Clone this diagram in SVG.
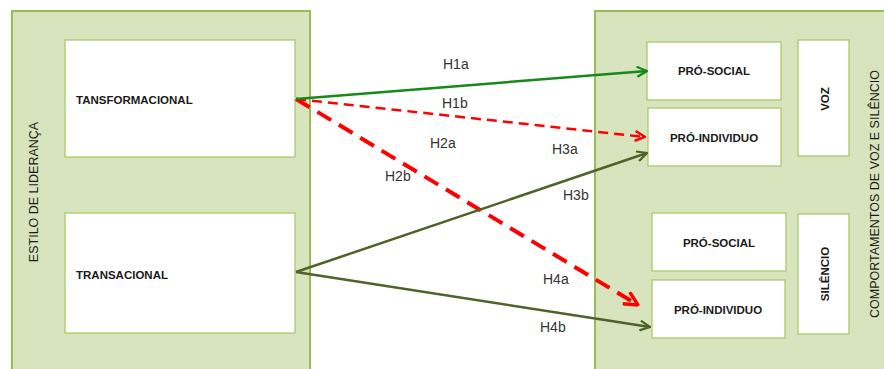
<svg xmlns="http://www.w3.org/2000/svg" width="884" height="369" viewBox="0 0 884 369">
  <style>
    .panel { fill: #d7e4bd; stroke: #9bbb59; stroke-width: 2; }
    .box { fill: #ffffff; stroke: #a9c96a; stroke-width: 1.3; }
    .bold { font-family: "Liberation Sans", Arial, sans-serif; font-weight: bold; font-size: 11.5px; fill: #1a1a1a; }
    .side { font-family: "Liberation Sans", Arial, sans-serif; font-size: 12.5px; fill: #1a1a1a; }
    .lbl { font-family: "Liberation Sans", Arial, sans-serif; font-size: 14px; fill: #333333; }
    .green { stroke: #15891a; stroke-width: 2.5; fill: none; }
    .olive { stroke: #4f6228; stroke-width: 2.5; fill: none; }
    .red1 { stroke: #ff0000; stroke-width: 2.5; fill: none; stroke-dasharray: 10 6; }
    .red2 { stroke: #ff0000; stroke-width: 4; fill: none; stroke-dasharray: 16 9; }
  </style>
  <defs>
    <marker id="ahGreen" viewBox="0 0 12 12" refX="11" refY="6" markerWidth="12" markerHeight="12" markerUnits="userSpaceOnUse" orient="auto">
      <path d="M1,1 L11,6 L1,11" fill="none" stroke="#15891a" stroke-width="2.2"/>
    </marker>
    <marker id="ahOlive" viewBox="0 0 12 12" refX="11" refY="6" markerWidth="12" markerHeight="12" markerUnits="userSpaceOnUse" orient="auto">
      <path d="M1,1 L11,6 L1,11" fill="none" stroke="#4f6228" stroke-width="2.2"/>
    </marker>
    <marker id="ahRed" viewBox="0 0 12 12" refX="11" refY="6" markerWidth="12" markerHeight="12" markerUnits="userSpaceOnUse" orient="auto">
      <path d="M1,1 L11,6 L1,11" fill="none" stroke="#ff0000" stroke-width="2.4"/>
    </marker>
    <marker id="ahRedBig" viewBox="0 0 14 14" refX="13" refY="7" markerWidth="16" markerHeight="16" markerUnits="userSpaceOnUse" orient="auto">
      <path d="M1,1 L13,7 L1,13" fill="none" stroke="#ff0000" stroke-width="3"/>
    </marker>
  </defs>

  <!-- left panel: leadership style -->
  <g id="estilo">
    <rect class="panel" x="12" y="11" width="298" height="370"/>
    <text class="side" transform="translate(38,192) rotate(-90)" text-anchor="middle">ESTILO DE LIDERANÇA</text>
  </g>
  <g id="tansformacional">
    <rect class="box" x="65" y="40" width="230" height="117"/>
    <text class="bold" x="76" y="104" font-size="12">TANSFORMACIONAL</text>
  </g>
  <g id="transacional">
    <rect class="box" x="65" y="213" width="230" height="120"/>
    <text class="bold" x="76" y="279" font-size="12">TRANSACIONAL</text>
  </g>

  <!-- right panel: voice and silence behaviours -->
  <g id="comportamentos">
    <rect class="panel" x="595" y="11" width="300" height="370"/>
    <text class="side" transform="translate(879,194) rotate(-90)" text-anchor="middle">COMPORTAMENTOS DE VOZ E SILÊNCIO</text>
  </g>
  <g id="voz-prosocial">
    <rect class="box" x="647" y="42" width="134" height="58"/>
    <text class="bold" x="714" y="75" text-anchor="middle">PRÓ-SOCIAL</text>
  </g>
  <g id="voz-proindividuo">
    <rect class="box" x="648" y="108" width="133" height="58"/>
    <text class="bold" x="714" y="142" text-anchor="middle">PRÓ-INDIVIDUO</text>
  </g>
  <g id="voz">
    <rect class="box" x="798" y="40" width="51" height="116"/>
    <text class="bold" transform="translate(829,99) rotate(-90)" text-anchor="middle">VOZ</text>
  </g>
  <g id="silencio-prosocial">
    <rect class="box" x="652" y="213" width="134" height="58"/>
    <text class="bold" x="719" y="247" text-anchor="middle">PRÓ-SOCIAL</text>
  </g>
  <g id="silencio-proindividuo">
    <rect class="box" x="652" y="280" width="133" height="58"/>
    <text class="bold" x="718" y="314" text-anchor="middle">PRÓ-INDIVIDUO</text>
  </g>
  <g id="silencio">
    <rect class="box" x="798" y="214" width="51" height="120"/>
    <text class="bold" transform="translate(829,274) rotate(-90)" text-anchor="middle">SILÊNCIO</text>
  </g>

  <!-- hypotheses connectors -->
  <g id="connectors">
    <line class="red2" x1="296" y1="99" x2="638" y2="305" marker-end="url(#ahRedBig)"/>
    <line class="red1" x1="296" y1="99" x2="645" y2="137" marker-end="url(#ahRed)"/>
    <line class="green" x1="296" y1="99" x2="647" y2="71" marker-end="url(#ahGreen)"/>
    <line class="olive" x1="296" y1="272" x2="647" y2="153" marker-end="url(#ahOlive)"/>
    <line class="olive" x1="296" y1="272" x2="650" y2="327" marker-end="url(#ahOlive)"/>
  </g>

  <g id="labels">
    <text class="lbl" x="443" y="69">H1a</text>
    <text class="lbl" x="442" y="108">H1b</text>
    <text class="lbl" x="430" y="148">H2a</text>
    <text class="lbl" x="552" y="154">H3a</text>
    <text class="lbl" x="385" y="181">H2b</text>
    <text class="lbl" x="563" y="200">H3b</text>
    <text class="lbl" x="543" y="284">H4a</text>
    <text class="lbl" x="540" y="332">H4b</text>
  </g>
</svg>
